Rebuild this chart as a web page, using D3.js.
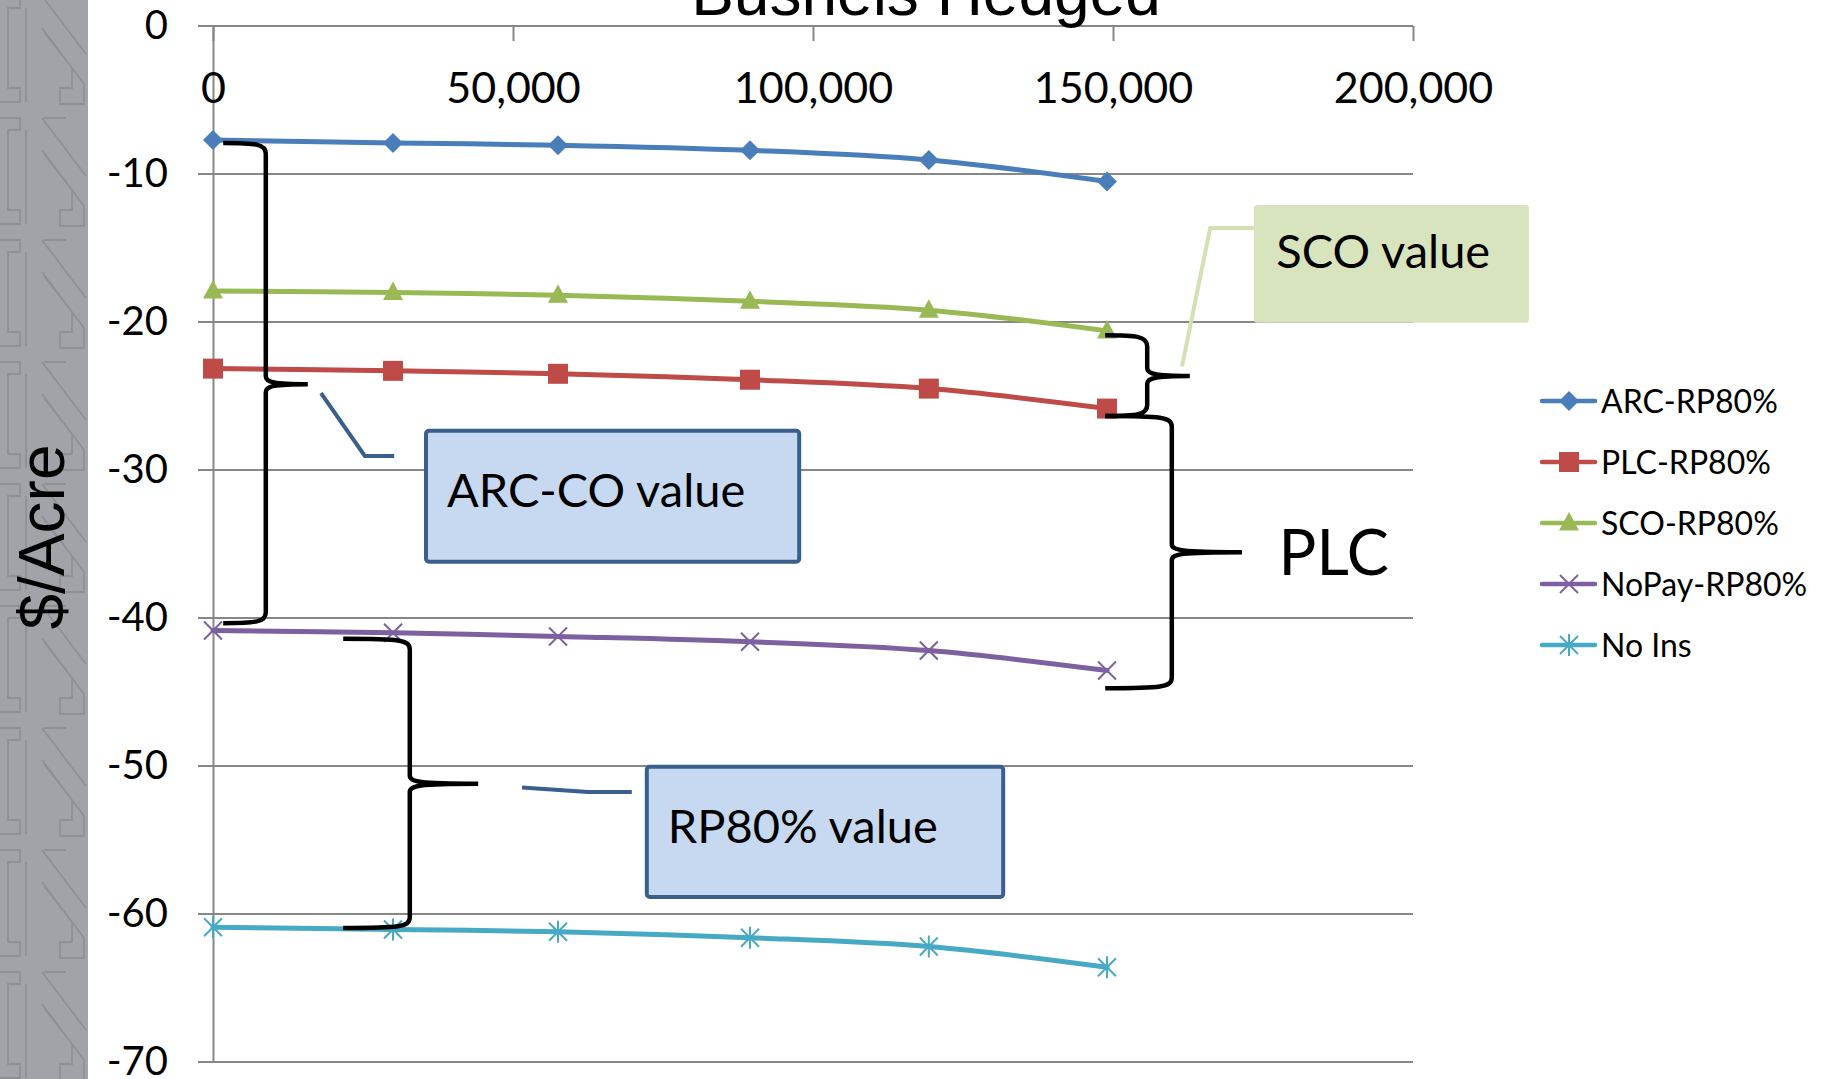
<!DOCTYPE html>
<html>
<head>
<meta charset="utf-8">
<script src="https://cdn.jsdelivr.net/npm/d3@7"></script>
<style>
html, body { margin: 0; padding: 0; background: #fff; }
#root { width: 1830px; height: 1079px; overflow: hidden; }
text { font-family: Lato, "Noto Sans", sans-serif; fill: #000; }
text.arial { font-family: "Liberation Sans", Arial, sans-serif; }
</style>
</head>
<body>
<div id="root"></div>
<script>
// bushels hedged (x) and $/acre for each insurance / programme combination
const bushels   = [0, 30000, 57500, 89500, 119300, 149000];
const arcRP     = [-7.7, -7.9, -8.05, -8.4, -9.05, -10.5];
const plcRP     = [-23.15, -23.3, -23.5, -23.9, -24.5, -25.85];
const scoRP     = [-17.9, -18.0, -18.2, -18.6, -19.2, -20.6];
const noPayRP   = [-40.85, -41.0, -41.25, -41.6, -42.2, -43.55];
const noIns     = [-60.9, -61.05, -61.2, -61.6, -62.2, -63.6];

const seriesNames  = ['ARC-RP80%', 'PLC-RP80%', 'SCO-RP80%', 'NoPay-RP80%', 'No Ins'];
const seriesValues = [arcRP, plcRP, scoRP, noPayRP, noIns];
const colors       = ['#4a7ebb', '#be4b48', '#98b954', '#7d60a0', '#46aac5'];
const markers      = ['diamond', 'square', 'triangle', 'x', 'star'];

const xTicks    = [0, 50000, 100000, 150000, 200000];
const yTicks    = [0, -10, -20, -30, -40, -50, -60, -70];

// annotations, in chart units (bushels, $/acre)
const braces = [
	{ arm: 1700, spine: 8800, tip: 15800, top: -7.9, mid: -24.2, bot: -40.35 },
	{ arm: 21700, spine: 32800, tip: 44200, top: -41.4, mid: -51.2, bot: -60.95 },
	{ arm: 148700, spine: 155700, tip: 162800, top: -20.9, mid: -23.65, bot: -26.35 },
	{ arm: 148700, spine: 159800, tip: 171500, top: -26.35, mid: -35.55, bot: -44.75 },
];
const boxes = [
	{ text: 'ARC-CO value', x0: 35500, x1: 97700, y0: -27.35, y1: -36.2, tx: 39000, ty: -32.5, fill: '#c6d9f1', stroke: '#3a5f8c' },
	{ text: 'RP80% value', x0: 72300, x1: 131700, y0: -50.05, y1: -58.85, tx: 75800, ty: -55.2, fill: '#c6d9f1', stroke: '#3a5f8c' },
	{ text: 'SCO value', x0: 173500, x1: 219300, y0: -12.1, y1: -20.05, tx: 177200, ty: -16.35, fill: '#d7e4bd', stroke: 'none' },
];
const connectors = [
	{ pts: [[30200, -29.05], [25300, -29.05], [18000, -24.8]], color: '#3a5f8c' },
	{ pts: [[69800, -51.75], [62500, -51.75], [51500, -51.45]], color: '#3a5f8c' },
	{ pts: [[173600, -13.65], [166200, -13.65], [161500, -23.0]], color: '#d1e1b3' },
];
const bigLabel = { text: 'PLC', x: 177600, y: -37.1 };

const margin = { top: 26, right: 417, bottom: 17, left: 213 };
const W = 1830, H = 1079;
const width  = W - margin.left - margin.right;
const height = H - margin.top - margin.bottom;

const svg = d3.select('#root').append('svg')
	.attr('width', W)
	.attr('height', H);

// grey side panel with the "N" pattern
const defs = svg.append('defs');
const pat = defs.append('pattern')
	.attr('id', 'npat')
	.attr('patternUnits', 'userSpaceOnUse')
	.attr('width', 88).attr('height', 122)
	.attr('y', -8);
pat.append('rect').attr('width', 88).attr('height', 122).attr('fill', '#a2a3a8');
pat.append('path')
	.attr('d', 'M0,4 H20 V16 H8 V96 H20 V110 H0 M42,4 L86,62 M44,4 H66 M42,36 L84,92 V112 H60 V96 H72 V76 L44,40 M26,16 V110')
	.attr('fill', 'none')
	.attr('stroke', '#8f9095')
	.attr('stroke-width', 1.8);
svg.append('rect').attr('x', 0).attr('y', 0).attr('width', 88).attr('height', H).attr('fill', 'url(#npat)');

const g = svg.append('g').attr('transform', 'translate(' + margin.left + ',' + margin.top + ')');

const x = d3.scaleLinear().domain([0, 200000]).range([0, width]);
const y = d3.scaleLinear().domain([-70, 0]).range([height, 0]);

// gridlines
g.append('g').selectAll('line').data(yTicks).enter().append('line')
	.attr('x1', -15).attr('x2', width)
	.attr('y1', d => y(d)).attr('y2', d => y(d))
	.attr('stroke', '#878787').attr('stroke-width', 2);

// y axis
const yAxis = g.append('g')
	.call(d3.axisLeft(y).tickValues(yTicks).tickSize(15).tickSizeOuter(0).tickPadding(30).tickFormat(d => String(d)));
yAxis.select('.domain').attr('stroke', '#878787').attr('stroke-width', 2);
yAxis.selectAll('.tick line').attr('stroke', 'none');
yAxis.selectAll('text').style('font-size', '40px').style('font-family', 'Lato').attr('fill', '#000');

// x axis along the zero line
const xAxis = g.append('g').attr('transform', 'translate(0,' + y(0) + ')')
	.call(d3.axisBottom(x).tickValues(xTicks).tickSize(15).tickSizeOuter(0).tickPadding(31).tickFormat(d3.format(',')));
xAxis.select('.domain').attr('stroke', 'none');
xAxis.selectAll('.tick line').attr('stroke', '#878787').attr('stroke-width', 2);
xAxis.selectAll('text').style('font-size', '43px').style('font-family', 'Lato').attr('fill', '#000');

// titles
svg.append('text').attr('class', 'arial')
	.attr('x', 926).attr('y', 15)
	.attr('text-anchor', 'middle')
	.style('font-size', '64px')
	.text('Bushels Hedged');

svg.append('text').attr('class', 'arial')
	.attr('transform', 'translate(64,537) rotate(-90)')
	.attr('text-anchor', 'middle')
	.style('font-size', '64px')
	.text('$/Acre');

function markerPath(type) {
	switch (type) {
		case 'diamond': return 'M0,-10L10,0L0,10L-10,0Z';
		case 'square': return 'M-10,-10H10V10H-10Z';
		case 'triangle': return 'M0,-11L10,7.5L-10,7.5Z';
		case 'x': return 'M-9,-9L9,9M-9,9L9,-9';
		case 'star': return 'M-9,-9L9,9M-9,9L9,-9M0,-11V11';
	}
}
const isStroke = t => (t === 'x' || t === 'star');

const line = d3.line()
	.x((d, i) => x(bushels[i]))
	.y(d => y(d))
	.curve(d3.curveCatmullRom.alpha(0.5));

seriesValues.forEach((vals, s) => {
	const sg = g.append('g').attr('class', 'series');
	sg.append('path')
		.attr('d', line(vals))
		.attr('fill', 'none')
		.attr('stroke', colors[s])
		.attr('stroke-width', 5)
		.attr('stroke-linecap', 'round');
	sg.selectAll('path.mk').data(vals).enter().append('path')
		.attr('class', 'mk')
		.attr('transform', (d, i) => 'translate(' + x(bushels[i]) + ',' + y(d) + ')')
		.attr('d', markerPath(markers[s]))
		.attr('fill', isStroke(markers[s]) ? 'none' : colors[s])
		.attr('stroke', colors[s])
		.attr('stroke-width', isStroke(markers[s]) ? 2 : 0);
});

// annotation boxes and leader lines
const ann = g.append('g').attr('class', 'annotations');

connectors.forEach(c => {
	ann.append('path')
		.attr('d', d3.line().x(p => x(p[0])).y(p => y(p[1]))(c.pts))
		.attr('fill', 'none')
		.attr('stroke', c.color)
		.attr('stroke-width', 4);
});

boxes.forEach(b => {
	ann.append('rect')
		.attr('x', x(b.x0)).attr('y', y(b.y0))
		.attr('width', x(b.x1) - x(b.x0)).attr('height', y(b.y1) - y(b.y0))
		.attr('rx', 3)
		.attr('fill', b.fill)
		.attr('stroke', b.stroke)
		.attr('stroke-width', 4);
	ann.append('text')
		.attr('x', x(b.tx)).attr('y', y(b.ty))
		.style('font-size', '47px')
		.text(b.text);
});

ann.append('text')
	.attr('x', x(bigLabel.x)).attr('y', y(bigLabel.y))
	.style('font-size', '63px')
	.text(bigLabel.text);

function bracePath(b) {
	const xa = x(b.arm), xs = x(b.spine), xt = x(b.tip);
	const yt = y(b.top), ym = y(b.mid), yb = y(b.bot);
	return 'M' + xa + ',' + yt + ' C' + (xs - 10) + ',' + yt + ' ' + xs + ',' + (yt + 1) + ' ' + xs + ',' + (yt + 11) +
		' V' + (ym - 8) + ' C' + xs + ',' + (ym - 2) + ' ' + (xs + 8) + ',' + ym + ' ' + xt + ',' + ym +
		' M' + xt + ',' + ym + ' C' + (xs + 8) + ',' + ym + ' ' + xs + ',' + (ym + 2) + ' ' + xs + ',' + (ym + 8) +
		' V' + (yb - 11) + ' C' + xs + ',' + (yb - 1) + ' ' + (xs - 10) + ',' + yb + ' ' + xa + ',' + yb;
}

ann.selectAll('path.brace').data(braces).enter().append('path')
	.attr('class', 'brace')
	.attr('d', bracePath)
	.attr('fill', 'none')
	.attr('stroke', '#000')
	.attr('stroke-width', 4.5);

// legend
const legend = svg.append('g').attr('transform', 'translate(1542,401)')
	.selectAll('.legend').data(seriesNames).enter().append('g')
	.attr('class', 'legend')
	.attr('transform', (d, i) => 'translate(0,' + (i * 61) + ')');

legend.append('line')
	.attr('x1', 0).attr('x2', 53)
	.attr('stroke', (d, i) => colors[i])
	.attr('stroke-width', 4.5)
	.attr('stroke-linecap', 'round');
legend.append('path')
	.attr('transform', 'translate(27,0)')
	.attr('d', (d, i) => markerPath(markers[i]))
	.attr('fill', (d, i) => isStroke(markers[i]) ? 'none' : colors[i])
	.attr('stroke', (d, i) => colors[i])
	.attr('stroke-width', (d, i) => isStroke(markers[i]) ? 2 : 0);
legend.append('text')
	.attr('x', 59)
	.attr('dy', '0.36em')
	.style('font-size', '32px')
	.text(d => d);
</script>
</body>
</html>
